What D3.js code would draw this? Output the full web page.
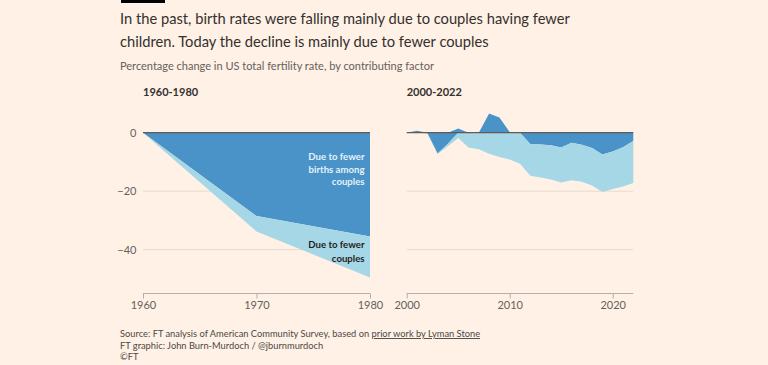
<!DOCTYPE html>
<html>
<head>
<meta charset="utf-8">
<script src="https://cdn.jsdelivr.net/npm/d3@7"></script>
<style>
  html, body { margin: 0; padding: 0; background: #fff1e5; }
  svg { display: block; }
  text { font-family: "Lato", "Open Sans", sans-serif; }
</style>
</head>
<body>
<svg id="chart" width="768" height="365"></svg>
<script>
// ---------- data ----------
const titleLines = [
  "In the past, birth rates were falling mainly due to couples having fewer",
  "children. Today the decline is mainly due to fewer couples"
];
const subtitle = "Percentage change in US total fertility rate, by contributing factor";

const yearsA = [1960, 1970, 1980];
const birthsAmongCouplesA = [0, -28.5, -35.5];
const fewerCouplesA = [0, -5.3, -14.0];

const yearsB = [2000, 2001, 2002, 2003, 2004, 2005, 2006, 2007, 2008, 2009, 2010,
                2011, 2012, 2013, 2014, 2015, 2016, 2017, 2018, 2019, 2020, 2021, 2022];
const birthsAmongCouplesB = [0, 0.7, -0.1, -7.1, -3.8, 1.4, -0.3, -0.1, 6.6, 5.2, 0.2,
                             0.1, -3.9, -4.0, -4.3, -5.1, -3.4, -4.1, -5.2, -7.5, -6.4, -5.0, -2.8];
const fewerCouplesB = [0, 0, -0.2, -0.2, -0.8, -1.8, -4.8, -5.6, -7.2, -8.3, -9.2,
                       -10.6, -10.8, -11.3, -11.7, -11.9, -12.9, -12.7, -12.9, -12.8, -12.9, -13.4, -14.4];

const yTicks = [0, -20, -40];
const xTicksA = [1960, 1970, 1980];
const xTicksB = [2000, 2010, 2020];
const panelTitles = ["1960-1980", "2000-2022"];
const labelBirths = ["Due to fewer", "births among", "couples"];
const labelCouples = ["Due to fewer", "couples"];
const sourceLines = [
  ["Source: FT analysis of American Community Survey, based on ", "prior work by Lyman Stone"],
  ["FT graphic: John Burn-Murdoch / @jburnmurdoch", ""],
  ["©FT", ""]
];

// ---------- style ----------
const BG = "#fff1e5";
const DARK = "#4a93c9";
const LIGHT = "#a6d7e7";
const TEXT = "#33302e";
const MUTED = "#66605c";
const GRID = "#e6d9ce";

const svg = d3.select("#chart");
svg.append("rect").attr("width", 768).attr("height", 365).attr("fill", BG);

// fit a text element's font-size so that it spans the given width
function fitWidth(sel, target) {
  const node = sel.node();
  const fs = parseFloat(sel.attr("font-size"));
  const w = node.getComputedTextLength();
  if (w > 0) sel.attr("font-size", (fs * target / w).toFixed(2));
  return sel;
}

// top black bar
svg.append("rect").attr("x", 121).attr("y", 0).attr("width", 44).attr("height", 3).attr("fill", "#000");

// title
const titleWidths = [450, 369];
let titleSize = Infinity;
const titleEls = titleLines.map((s, i) => {
  const el = svg.append("text").attr("x", 120).attr("y", 24 + i * 22.5)
    .attr("font-size", 16).attr("fill", TEXT).text(s);
  fitWidth(el, titleWidths[i]);
  titleSize = Math.min(titleSize, parseFloat(el.attr("font-size")));
  return el;
});
titleEls.forEach(el => el.attr("font-size", titleSize));

const sub = svg.append("text").attr("x", 120).attr("y", 70).attr("font-size", 11)
  .attr("fill", MUTED).text(subtitle);
fitWidth(sub, 314);

// scales
const y = d3.scaleLinear().domain([-55, 8]).range([293.5, 109.3]);
const xA = d3.scaleLinear().domain([1960, 1980]).range([143, 370]);
const xB = d3.scaleLinear().domain([2000, 2022]).range([406.7, 633.3]);

function panel(x, years, births, fewer, xTicks, title, showY) {
  const g = svg.append("g");
  const [x0, x1] = x.range();
  // grid
  g.selectAll(".grid").data(yTicks.filter(v => v !== 0)).join("line")
    .attr("x1", x0).attr("x2", x1)
    .attr("y1", d => y(d)).attr("y2", d => y(d))
    .attr("stroke", GRID).attr("stroke-width", 1);

  const rows = years.map((yr, i) => ({ year: yr, births: births[i], fewer: fewer[i] }));
  const stack = d3.stack().keys(["births", "fewer"]).offset(d3.stackOffsetDiverging);
  const series = stack(rows);
  const area = d3.area().x(d => x(d.data.year)).y0(d => y(d[0])).y1(d => y(d[1]));
  const colors = { births: DARK, fewer: LIGHT };
  g.selectAll(".area").data(series).join("path")
    .attr("d", area).attr("fill", d => colors[d.key]);

  // zero line
  g.append("line").attr("x1", x0).attr("x2", x1)
    .attr("y1", y(0)).attr("y2", y(0))
    .attr("stroke", "#5e5a57").attr("stroke-width", 1.2);

  // x axis
  const ax = g.append("g").attr("transform", `translate(0,${y(-55)})`)
    .call(d3.axisBottom(x).tickValues(xTicks).tickFormat(d3.format("d")).tickSizeOuter(0).tickSize(5));
  ax.select(".domain").attr("stroke", "#b8aea6").attr("d", `M${x0},0H${x1}`);
  ax.selectAll(".tick line").attr("stroke", "#b8aea6").attr("y1", 0).attr("y2", 5);
  ax.selectAll(".tick text").attr("fill", MUTED).attr("font-size", 11)
    .attr("font-family", "Lato, sans-serif").attr("y", 8).attr("dy", "0.71em");

  if (showY) {
    const ay = g.append("g").attr("transform", `translate(${x0},0)`)
      .call(d3.axisLeft(y).tickValues(yTicks).tickSize(0).tickPadding(6.5));
    ay.select(".domain").remove();
    ay.selectAll(".tick text").attr("fill", MUTED).attr("font-size", 11)
      .attr("font-family", "Lato, sans-serif");
  }

  g.append("text").attr("x", x0).attr("y", 96).attr("font-size", 11)
    .attr("font-weight", "bold").attr("fill", TEXT).text(title);
}

panel(xA, yearsA, birthsAmongCouplesA, fewerCouplesA, xTicksA, panelTitles[0], true);
panel(xB, yearsB, birthsAmongCouplesB, fewerCouplesB, xTicksB, panelTitles[1], false);

// annotations in left panel
labelBirths.forEach((s, i) => {
  svg.append("text").attr("x", 364.5).attr("y", 160 + i * 12.7)
    .attr("text-anchor", "end").attr("font-size", 9.6).attr("font-weight", "bold")
    .attr("fill", "#e4f2fa").text(s);
});
labelCouples.forEach((s, i) => {
  svg.append("text").attr("x", 364.5).attr("y", 248.3 + i * 13.2)
    .attr("text-anchor", "end").attr("font-size", 9.6).attr("font-weight", "bold")
    .attr("fill", "#1f1d1c").text(s);
});

// footer
sourceLines.forEach((parts, i) => {
  const tx = svg.append("text").attr("x", 120).attr("y", 337 + i * 11.7)
    .attr("font-size", 9.3).attr("fill", "#4d4845");
  tx.append("tspan").text(parts[0]);
  if (parts[1]) tx.append("tspan").attr("text-decoration", "underline").text(parts[1]);
});
</script>
</body>
</html>
